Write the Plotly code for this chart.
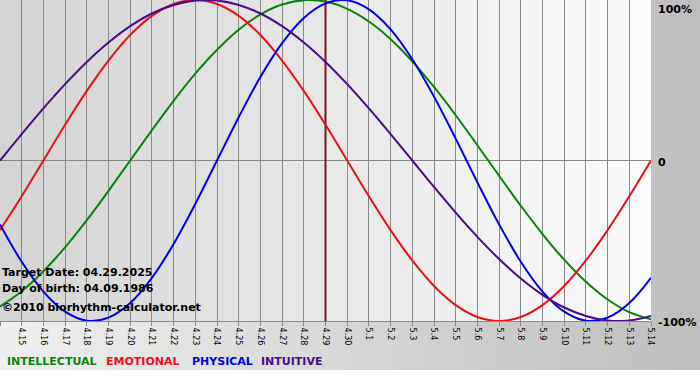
import plotly.graph_objects as go

# ---------------- data ----------------
days = ["4.14", "4.15", "4.16", "4.17", "4.18", "4.19", "4.20", "4.21", "4.22", "4.23",
        "4.24", "4.25", "4.26", "4.27", "4.28", "4.29", "4.30", "5.1", "5.2", "5.3",
        "5.4", "5.5", "5.6", "5.7", "5.8", "5.9", "5.10", "5.11", "5.12", "5.13", "5.14"]

intellectual = [-0.91, -0.815, -0.69, -0.541, -0.372, -0.189, 0.0, 0.189, 0.372, 0.541,
                0.69, 0.815, 0.91, 0.972, 0.999, 0.99, 0.945, 0.866, 0.756, 0.618,
                0.458, 0.282, 0.095, -0.095, -0.282, -0.458, -0.618, -0.756, -0.866, -0.945, -0.99]

emotional = [-0.434, -0.223, 0.0, 0.223, 0.434, 0.623, 0.782, 0.901, 0.975, 1.0,
             0.975, 0.901, 0.782, 0.623, 0.434, 0.223, 0.0, -0.223, -0.434, -0.623,
             -0.782, -0.901, -0.975, -1.0, -0.975, -0.901, -0.782, -0.623, -0.434, -0.223, 0.0]

physical = [-0.398, -0.631, -0.817, -0.942, -0.998, -0.979, -0.888, -0.731, -0.52, -0.27,
            0.0, 0.27, 0.52, 0.731, 0.888, 0.979, 0.998, 0.942, 0.817, 0.631,
            0.398, 0.136, -0.136, -0.398, -0.631, -0.817, -0.942, -0.998, -0.979, -0.888, -0.731]

intuitive = [0.0, 0.165, 0.325, 0.476, 0.614, 0.735, 0.837, 0.916, 0.969, 0.997,
             0.997, 0.969, 0.916, 0.837, 0.735, 0.614, 0.476, 0.325, 0.165, 0.0,
             -0.165, -0.325, -0.476, -0.614, -0.735, -0.837, -0.916, -0.969, -0.997, -0.997, -0.969]

series_names = ["INTELLECTUAL", "EMOTIONAL", "PHYSICAL", "INTUITIVE"]
series_values = [intellectual, emotional, physical, intuitive]
series_colors = ["#0a820a", "#e8101c", "#0000e0", "#4b0a86"]

y_tick_values = [1, 0, -1]
y_tick_labels = ["100%", "0", "-100%"]

target_day = "4.29"
info_lines = ["Target Date: 04.29.2025", "Day of birth: 04.09.1986", "©2010 biorhythm-calculator.net"]

# ---------------- layout geometry ----------------
W, H = 700, 380
ML, MR, MT, MB = 0, 49, 0, 59
PW = W - ML - MR          # 651
PH = H - MT - MB          # 321


def px_x(px):
    return (px - ML) / PW


def px_y(py):
    return (MT + PH - py) / PH


def mix(c1, c2, t):
    a = [int(c1[i:i + 2], 16) for i in (1, 3, 5)]
    b = [int(c2[i:i + 2], 16) for i in (1, 3, 5)]
    return "#%02x%02x%02x" % tuple(round(a[k] + (b[k] - a[k]) * t) for k in range(3))


shapes = []
# page gradient (light left -> gray right)
N = 60
for i in range(N):
    x0 = 700 * i / N
    x1 = 700 * (i + 1) / N + 1
    shapes.append(dict(type="rect", xref="paper", yref="paper", layer="below",
                       x0=px_x(x0), x1=px_x(x1), y0=px_y(370), y1=px_y(0),
                       fillcolor=mix("#efefef", "#bebebe", (i + 0.5) / N), line=dict(width=0)))
# plot area gradient (gray left -> white right)
N2 = 60
for i in range(N2):
    x0 = PW * i / N2
    x1 = min(PW, PW * (i + 1) / N2 + 1)
    shapes.append(dict(type="rect", xref="paper", yref="paper", layer="below",
                       x0=px_x(x0), x1=px_x(x1), y0=0, y1=1,
                       fillcolor=mix("#d4d4d4", "#fbfbfb", (i + 0.5) / N2), line=dict(width=0)))

xs = list(range(len(days)))
ti = days.index(target_day)
shapes.append(dict(type="line", xref="x", yref="y", layer="between",
                   x0=xs[ti], x1=xs[ti], y0=-1, y1=1,
                   line=dict(color="#7a1616", width=2)))

fig = go.Figure()
for name, vals, col in zip(series_names, series_values, series_colors):
    fig.add_trace(go.Scatter(x=xs, y=vals, mode="lines", name=name,
                             line=dict(color=col, width=2, shape="spline", smoothing=1),
                             hoverinfo="skip"))

annotations = []
# right axis labels
for v, lab in zip(y_tick_values, y_tick_labels):
    annotations.append(dict(xref="paper", yref="y", x=1, y=v, xshift=7,
                            yshift=(-3 if v == 1 else -1.5),
                            xanchor="left", yanchor=("top" if v == 1 else "middle"),
                            text=lab, showarrow=False, borderpad=0, borderwidth=0,
                            font=dict(family="DejaVu Sans", size=11, color="#000000", weight="bold")))
# info text
for lab, py in zip(info_lines, [272, 288, 307]):
    annotations.append(dict(xref="paper", yref="paper", x=px_x(2), y=px_y(py),
                            xanchor="left", yanchor="middle", text=lab, showarrow=False,
                            borderpad=0, borderwidth=0,
                            font=dict(family="DejaVu Sans", size=11, color="#000000", weight="bold")))
# legend text
for name, col, px in zip(series_names, series_colors, [7, 106, 192, 261]):
    annotations.append(dict(xref="paper", yref="paper", x=px_x(px), y=px_y(361),
                            xanchor="left", yanchor="middle", text=name, showarrow=False,
                            borderpad=0, borderwidth=0,
                            font=dict(family="DejaVu Sans", size=11, color=col, weight="bold")))

fig.update_layout(
    width=W, height=H,
    margin=dict(l=ML, r=MR, t=MT, b=MB, pad=0),
    paper_bgcolor="#ffffff",
    plot_bgcolor="rgba(0,0,0,0)",
    showlegend=False,
    shapes=shapes,
    annotations=annotations,
    xaxis=dict(range=[0, len(days) - 1], tickvals=xs, ticktext=days, tickangle=90,
               showgrid=True, gridcolor="#8a8a8a", gridwidth=1,
               ticks="outside", ticklen=4, tickcolor="#8a8a8a", tickwidth=1,
               showline=True, linecolor="#8a8a8a", linewidth=1, mirror=True,
               zeroline=False, fixedrange=True,
               tickfont=dict(family="DejaVu Sans", size=8, color="#000000")),
    yaxis=dict(range=[-1, 1], showgrid=False, showticklabels=False, ticks="",
               zeroline=True, zerolinecolor="#8a8a8a", zerolinewidth=1,
               showline=False, fixedrange=True),
)

fig.write_html("out.html", config={"displayModeBar": False, "staticPlot": True},
               post_script="document.body.style.margin='0px';document.body.style.padding='0px';")
